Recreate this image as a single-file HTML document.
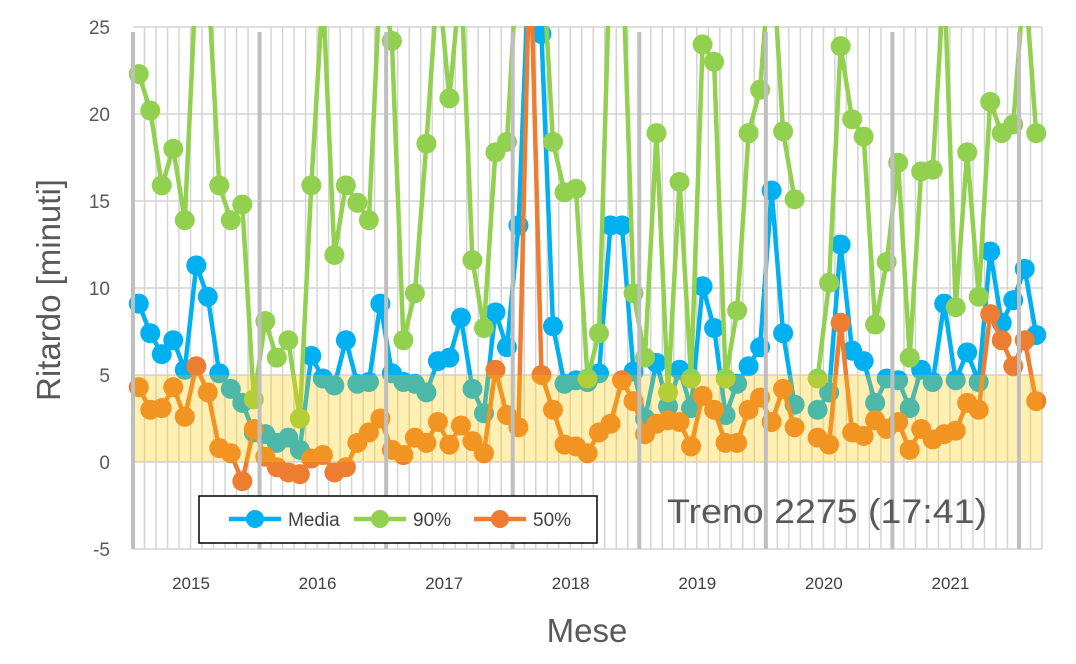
<!DOCTYPE html>
<html><head><meta charset="utf-8"><style>
html,body{margin:0;padding:0;background:#fff;}
svg{display:block;font-family:"Liberation Sans",sans-serif;}
</style></head><body>
<svg id="chart" width="1076" height="664" viewBox="0 0 1076 664" xmlns="http://www.w3.org/2000/svg">
<defs><clipPath id="plotclip"><rect x="120" y="26" width="935" height="540"/></clipPath></defs>
<g id="grid"></g>
<g id="series" clip-path="url(#plotclip)"></g>
<rect id="band" fill="rgba(255,203,0,0.3)"/>
<g id="yaxis"></g>
<g id="xaxis"></g>
<text transform="translate(60,290) rotate(-90)" text-anchor="middle" font-size="33" fill="#595959">Ritardo [minuti]</text>
<text x="587" y="642" text-anchor="middle" font-size="33" fill="#595959">Mese</text>
<text x="667" y="523" font-size="34" fill="#595959" textLength="320" lengthAdjust="spacingAndGlyphs">Treno 2275 (17:41)</text>
<g>
<rect x="199" y="496" width="398" height="47" fill="#fff" stroke="#000" stroke-width="1.5"/>
<g><line x1="229" y1="519" x2="281" y2="519" stroke="#00B0F0" stroke-width="4.5"/><circle cx="255" cy="519" r="9" fill="#00B0F0"/><text x="288" y="526" font-size="19" fill="#404040">Media</text></g>
<g><line x1="354" y1="519" x2="406" y2="519" stroke="#92D050" stroke-width="4.5"/><circle cx="380" cy="519" r="9" fill="#92D050"/><text x="413" y="526" font-size="19" fill="#404040">90%</text></g>
<g><line x1="474" y1="519" x2="526" y2="519" stroke="#ED7D31" stroke-width="4.5"/><circle cx="500" cy="519" r="9" fill="#ED7D31"/><text x="533" y="526" font-size="19" fill="#404040">50%</text></g>
</g>
</svg>
<script>
const yTicks=[-5,0,5,10,15,20,25];
const yearLabels=["2015","2016","2017","2018","2019","2020","2021"];
const media=[9.1,7.4,6.2,7.0,5.3,11.3,9.5,5.1,4.2,3.4,1.7,1.6,1.1,1.4,0.7,6.1,4.8,4.4,7.0,4.5,4.6,9.1,5.1,4.6,4.5,4.0,5.8,6.0,8.3,4.2,2.8,8.6,6.6,13.6,30,24.6,7.8,4.5,4.7,4.6,5.1,13.6,13.6,5.2,2.5,5.7,3.2,5.3,3.1,10.1,7.7,2.7,4.5,5.5,6.6,15.6,7.4,3.3,null,3.0,4.0,12.5,6.4,5.8,3.4,4.8,4.7,3.1,5.3,4.6,9.1,4.7,6.3,4.6,12.1,8.0,9.3,11.1,7.3];
const p90=[22.3,20.2,15.9,18.0,13.9,28,28,15.9,13.9,14.8,3.6,8.1,6.0,7.0,2.5,15.9,27,11.9,15.9,14.9,13.9,28,24.2,7.0,9.7,18.3,28,20.9,28,11.6,7.7,17.8,18.4,30,30,30,18.4,15.5,15.7,4.8,7.4,30,30,9.7,6.0,18.9,4.0,16.1,4.8,24.0,23.0,4.8,8.7,18.9,21.4,30,19.0,15.1,null,4.8,10.3,23.9,19.7,18.7,7.9,11.5,17.2,6.0,16.7,16.8,28,8.9,17.8,9.5,20.7,18.9,19.4,28,18.9];
const p50=[4.3,3.0,3.1,4.3,2.6,5.5,4.0,0.8,0.5,-1.1,1.9,0.3,-0.3,-0.6,-0.7,0.2,0.4,-0.6,-0.3,1.1,1.7,2.5,0.7,0.4,1.4,1.1,2.3,1.0,2.1,1.2,0.5,5.3,2.7,2.0,30,5.0,3.0,1.0,0.9,0.5,1.7,2.2,4.7,3.5,1.6,2.2,2.4,2.3,0.9,3.8,3.0,1.1,1.1,3.0,3.7,2.3,4.2,2.0,null,1.4,1.0,8.0,1.7,1.5,2.4,1.9,2.3,0.7,1.9,1.3,1.6,1.8,3.4,3.0,8.5,7.0,5.5,7.0,3.5];
const N=media.length, X0=133, X1=1042, Y0=462, PX=17.4;
const w=(X1-X0)/N;
const xs=i=>X0+(i+0.5)*w;
const ys=v=>Y0-v*PX;
const NS="http://www.w3.org/2000/svg";
function mk(tag,attrs,parent){const e=document.createElementNS(NS,tag);for(const k in attrs)e.setAttribute(k,attrs[k]);parent.appendChild(e);return e;}
const grid=document.getElementById('grid');
for(let i=1;i<N;i++){if(i%11===0)continue;const l=mk('line',{x1:X0+i*w,x2:X0+i*w,y1:ys(25),y2:ys(-5),stroke:'#d4d4d4','stroke-width':1.5},grid);

}
yTicks.forEach(t=>{const l=mk('line',{x1:X0,x2:X1,y1:ys(t),y2:ys(t),stroke:'#d4d4d4','stroke-width':1.5},grid);

});
mk('line',{x1:X1,x2:X1,y1:ys(25),y2:ys(-5),stroke:'#d4d4d4','stroke-width':1.5},grid);
const band=document.getElementById('band');
band.setAttribute('x',X0);band.setAttribute('width',X1-X0);band.setAttribute('y',ys(5));band.setAttribute('height',ys(0)-ys(5));
const yax=document.getElementById('yaxis');
yTicks.forEach(t=>{const tx=mk('text',{x:110,y:ys(t)+7,'text-anchor':'end','font-size':19,fill:'#595959'},yax);tx.textContent=t;

});
const xax=document.getElementById('xaxis');
for(let k=0;k*11<=N;k++){const x=X0+k*11*w;const l=mk('line',{x1:x,x2:x,y1:32,y2:ys(-5),stroke:'#bfbfbf','stroke-width':4},xax);

}
yearLabels.forEach((y,k)=>{const tx=mk('text',{x:X0+k*11*w+58,y:589,'text-anchor':'middle','font-size':17,fill:'#404040'},xax);tx.textContent=y;

});
const ser=document.getElementById('series');
function draw(data,color,name){const g=mk('g',{},ser);


let d='',pen=false;
data.forEach((v,i)=>{if(v===null){pen=false;return;}d+=(pen?'L':'M')+xs(i).toFixed(1)+' '+ys(v).toFixed(1)+' ';pen=true;});
mk('path',{d:d,fill:'none',stroke:color,'stroke-width':4.5,'stroke-linejoin':'round'},g);
data.forEach((v,i)=>{if(v===null)return;const c=mk('circle',{cx:xs(i),cy:ys(v),r:10,fill:color},g);

});}
draw(media,'#00B0F0','series-media');
draw(p90,'#92D050','series-90');
draw(p50,'#ED7D31','series-50');
</script>
</body></html>
